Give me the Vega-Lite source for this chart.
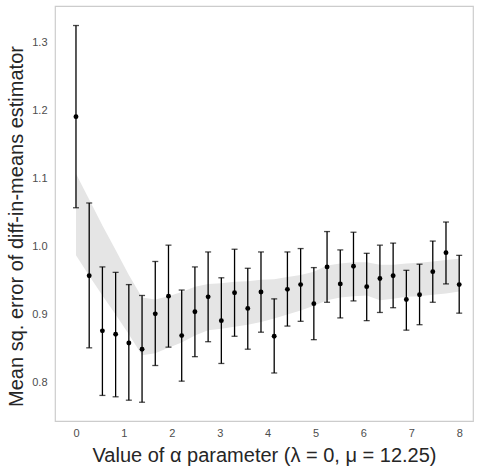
{
  "$schema": "https://vega.github.io/schema/vega-lite/v6.json",
  "width": 418,
  "height": 415,
  "autosize": {"type": "none"},
  "padding": {"left": 55, "top": 6, "right": 4, "bottom": 47},
  "background": "white",
  "config": {
    "view": {"stroke": "#cccccc", "strokeWidth": 1.2},
    "axis": {
      "domain": false,
      "grid": false,
      "ticks": false,
      "labelFont": "Liberation Sans",
      "labelFontSize": 11,
      "labelColor": "#4d4d4d",
      "titleFont": "Liberation Sans",
      "titleFontWeight": "normal",
      "titleColor": "#262626"
    }
  },
  "data": {
    "values": [
      {"alpha": 0.0, "mse": 1.191, "lo": 1.057, "hi": 1.325, "bandLo": 0.987, "bandHi": 1.107},
      {"alpha": 0.2759, "mse": 0.957, "lo": 0.851, "hi": 1.064, "bandLo": 0.957, "bandHi": 1.069},
      {"alpha": 0.5517, "mse": 0.876, "lo": 0.781, "hi": 0.970, "bandLo": 0.928, "bandHi": 1.031},
      {"alpha": 0.8276, "mse": 0.871, "lo": 0.779, "hi": 0.962, "bandLo": 0.900, "bandHi": 0.995},
      {"alpha": 1.1034, "mse": 0.858, "lo": 0.774, "hi": 0.944, "bandLo": 0.871, "bandHi": 0.958},
      {"alpha": 1.3793, "mse": 0.849, "lo": 0.771, "hi": 0.928, "bandLo": 0.840, "bandHi": 0.925},
      {"alpha": 1.6552, "mse": 0.901, "lo": 0.825, "hi": 0.978, "bandLo": 0.843, "bandHi": 0.922},
      {"alpha": 1.931, "mse": 0.927, "lo": 0.852, "hi": 1.002, "bandLo": 0.851, "bandHi": 0.927},
      {"alpha": 2.2069, "mse": 0.869, "lo": 0.802, "hi": 0.936, "bandLo": 0.859, "bandHi": 0.933},
      {"alpha": 2.4828, "mse": 0.904, "lo": 0.838, "hi": 0.970, "bandLo": 0.869, "bandHi": 0.941},
      {"alpha": 2.7586, "mse": 0.926, "lo": 0.860, "hi": 0.992, "bandLo": 0.877, "bandHi": 0.945},
      {"alpha": 3.0345, "mse": 0.891, "lo": 0.828, "hi": 0.954, "bandLo": 0.879, "bandHi": 0.946},
      {"alpha": 3.3103, "mse": 0.932, "lo": 0.868, "hi": 0.996, "bandLo": 0.882, "bandHi": 0.948},
      {"alpha": 3.5862, "mse": 0.909, "lo": 0.849, "hi": 0.968, "bandLo": 0.885, "bandHi": 0.949},
      {"alpha": 3.8621, "mse": 0.933, "lo": 0.874, "hi": 0.992, "bandLo": 0.889, "bandHi": 0.951},
      {"alpha": 4.1379, "mse": 0.868, "lo": 0.814, "hi": 0.923, "bandLo": 0.894, "bandHi": 0.952},
      {"alpha": 4.4138, "mse": 0.937, "lo": 0.883, "hi": 0.992, "bandLo": 0.900, "bandHi": 0.955},
      {"alpha": 4.6897, "mse": 0.944, "lo": 0.890, "hi": 0.997, "bandLo": 0.906, "bandHi": 0.958},
      {"alpha": 4.9655, "mse": 0.916, "lo": 0.863, "hi": 0.969, "bandLo": 0.913, "bandHi": 0.963},
      {"alpha": 5.2414, "mse": 0.970, "lo": 0.918, "hi": 1.022, "bandLo": 0.921, "bandHi": 0.972},
      {"alpha": 5.5172, "mse": 0.945, "lo": 0.895, "hi": 0.995, "bandLo": 0.925, "bandHi": 0.975},
      {"alpha": 5.7931, "mse": 0.971, "lo": 0.920, "hi": 1.021, "bandLo": 0.927, "bandHi": 0.977},
      {"alpha": 6.069, "mse": 0.941, "lo": 0.891, "hi": 0.990, "bandLo": 0.928, "bandHi": 0.977},
      {"alpha": 6.3448, "mse": 0.953, "lo": 0.903, "hi": 1.002, "bandLo": 0.921, "bandHi": 0.973},
      {"alpha": 6.6207, "mse": 0.957, "lo": 0.910, "hi": 1.005, "bandLo": 0.923, "bandHi": 0.973},
      {"alpha": 6.8966, "mse": 0.922, "lo": 0.877, "hi": 0.965, "bandLo": 0.926, "bandHi": 0.975},
      {"alpha": 7.1724, "mse": 0.929, "lo": 0.885, "hi": 0.974, "bandLo": 0.927, "bandHi": 0.976},
      {"alpha": 7.4483, "mse": 0.963, "lo": 0.918, "hi": 1.008, "bandLo": 0.929, "bandHi": 0.978},
      {"alpha": 7.7241, "mse": 0.991, "lo": 0.945, "hi": 1.036, "bandLo": 0.931, "bandHi": 0.980},
      {"alpha": 8.0, "mse": 0.944, "lo": 0.902, "hi": 0.987, "bandLo": 0.934, "bandHi": 0.982}
    ]
  },
  "encoding": {
    "x": {
      "field": "alpha",
      "type": "quantitative",
      "title": "Value of α parameter (λ = 0, μ = 12.25)",
      "scale": {"domain": [-0.438, 8.288], "nice": false, "zero": false},
      "axis": {
        "values": [0, 1, 2, 3, 4, 5, 6, 7, 8],
        "labelPadding": 6,
        "titleFontSize": 20,
        "titlePadding": 7
      }
    }
  },
  "layer": [
    {
      "mark": {"type": "area", "color": "#e5e5e5", "opacity": 1},
      "encoding": {
        "y": {
          "field": "bandLo",
          "type": "quantitative",
          "title": "Mean sq. error of diff-in-means estimator",
          "scale": {"domain": [0.7434, 1.3537], "nice": false, "zero": false},
          "axis": {
            "values": [0.8, 0.9, 1.0, 1.1, 1.2, 1.3],
            "format": ".1f",
            "labelPadding": 8,
            "titleFontSize": 20,
            "titlePadding": 5,
            "titleY": 220
          }
        },
        "y2": {"field": "bandHi"}
      }
    },
    {
      "mark": {
        "type": "errorbar",
        "color": "black",
        "thickness": 1.3,
        "ticks": {"size": 6, "thickness": 1.3, "color": "black"}
      },
      "encoding": {
        "y": {"field": "lo", "type": "quantitative", "title": "Mean sq. error of diff-in-means estimator"},
        "y2": {"field": "hi"}
      }
    },
    {
      "mark": {"type": "circle", "color": "black", "opacity": 1, "size": 24},
      "encoding": {
        "y": {"field": "mse", "type": "quantitative", "title": "Mean sq. error of diff-in-means estimator"}
      }
    }
  ]
}
